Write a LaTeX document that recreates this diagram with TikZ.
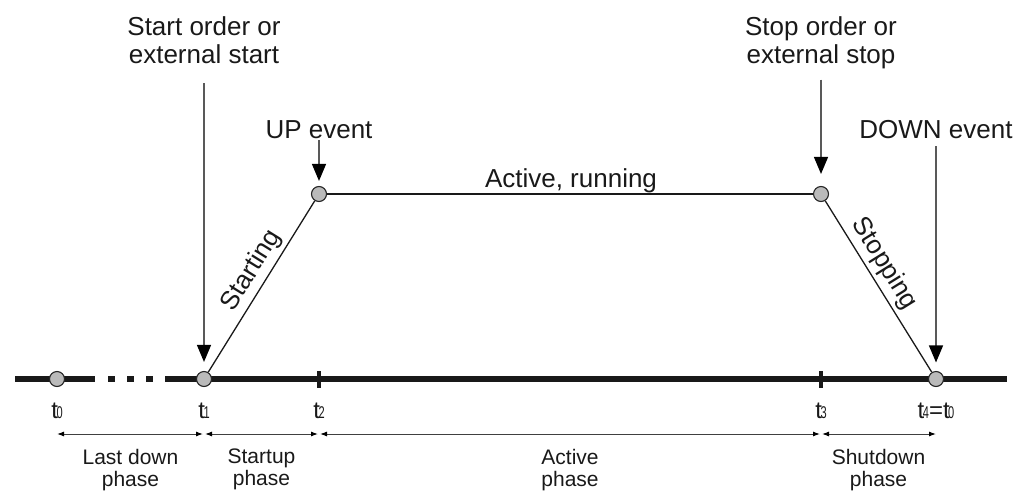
\documentclass[tikz,border=0pt]{standalone}
\usepackage{fontspec}
\usepackage{graphicx}
\setmainfont{Liberation Sans}
\usetikzlibrary{arrows.meta}
\newcommand\tsub[1]{t\kern-1.5pt{\fontsize{17}{17}\selectfont\scalebox{0.65}[1]{#1}}}
\begin{document}
\begin{tikzpicture}[x=1pt,y=-1pt,
  big/.style={font=\fontsize{26}{28}\selectfont, inner sep=0pt, align=center, text=black!90},
  phase/.style={font=\fontsize{21}{22}\selectfont, inner sep=0pt, align=center, anchor=north, text=black!90},
  tlab/.style={font=\fontsize{24}{24}\selectfont, inner sep=0pt, anchor=base, text=black!90},
  ev/.style={circle, draw=black!85, fill=black!27, line width=1.1pt, minimum size=15pt, inner sep=0pt},
  tickmark/.style={rectangle, fill=black!90, minimum width=4pt, minimum height=17pt, inner sep=0pt},
  axis/.style={line width=6pt, black!90},
  trap/.style={line width=1.3pt, black!90},
  evarrow/.style={line width=1.3pt, black!65, -{Triangle[length=17pt,width=14pt,color=black]}},
  dim/.style={line width=1pt, black!75, {Latex[length=7pt,width=5pt,color=black]}-{Latex[length=7pt,width=5pt,color=black]}}
]
\useasboundingbox (0,0) rectangle (1027,490);
% time axis
\coordinate (a0) at (15,379);
\coordinate (a1) at (95,379);
\coordinate (a2) at (108,379);
\coordinate (a3) at (153,379);
\coordinate (a4) at (165,379);
\coordinate (a5) at (1007,379);
\draw[axis] (a0) -- (a1);
\draw[axis, dash pattern=on 7pt off 12pt] (a2) -- (a3);
\draw[axis] (a4) -- (a5);
% events on axis
\node[ev] (c0) at (57,379) {};
\node[ev] (c1) at (204,379) {};
\node[tickmark] (k2) at (319,379) {};
\node[tickmark] (k3) at (821,379) {};
\node[ev] (c4) at (936,379) {};
% upper events
\node[ev] (up) at (319,194) {};
\node[ev] (stop) at (821,194) {};
% trapezoid
\draw[trap] (c1) -- (up) node[pos=0.54, sloped, above, big, inner sep=4pt] (starting) {Starting};
\draw[trap] (up) -- (stop);
\draw[trap] (stop) -- (c4) node[pos=0.42, sloped, above, big, inner sep=4pt] (stopping) {Stopping};
\node[big, anchor=base] (run) at (571,187) {Active, running};
% top labels
\node[big, anchor=north] (startlbl) at (204,16) {Start order or\\external start};
\node[big, anchor=north] (stoplbl) at (821,16) {Stop order or\\external stop};
\node[big, anchor=base] (uplbl) at (319,138) {UP event};
\node[big, anchor=base] (downlbl) at (936,138) {DOWN event};
% event arrows
\draw[evarrow, shorten <=20pt, shorten >=9pt] (startlbl.south) -- (c1.north);
\draw[evarrow, shorten <=11pt, shorten >=12pt] (stoplbl.south) -- (stop.north);
\draw[evarrow, shorten <=1.5pt, shorten >=5pt] (uplbl.south) -- (up.north);
\draw[evarrow, shorten <=8pt, shorten >=8.5pt] (downlbl.south) -- (c4.north);
% time labels
\node[tlab] (t0) at (57,418) {\tsub{0}};
\node[tlab] (t1) at (204,418) {\tsub{1}};
\node[tlab] (t2) at (319,418) {\tsub{2}};
\node[tlab] (t3) at (821,418) {\tsub{3}};
\node[tlab] (t4) at (936,418) {\tsub{4}=\tsub{0}};
% phase dimensions
\coordinate (dy) at (0,434);
\draw[dim] (c0 |- dy) -- ([xshift=-1pt]c1 |- dy);
\draw[dim] ([xshift=1pt]c1 |- dy) -- ([xshift=-1pt]k2 |- dy);
\draw[dim] ([xshift=1pt]k2 |- dy) -- ([xshift=-1pt]k3 |- dy);
\draw[dim] ([xshift=1pt]k3 |- dy) -- (c4 |- dy);
% phase labels
\node[phase] (p1) at (130.5,449) {Last down\\phase};
\node[phase] (p2) at (261.5,449) {Startup\\phase};
\node[phase] (p3) at (570,449) {Active\\phase};
\node[phase] (p4) at (878.5,449) {Shutdown\\phase};
\end{tikzpicture}
\end{document}
